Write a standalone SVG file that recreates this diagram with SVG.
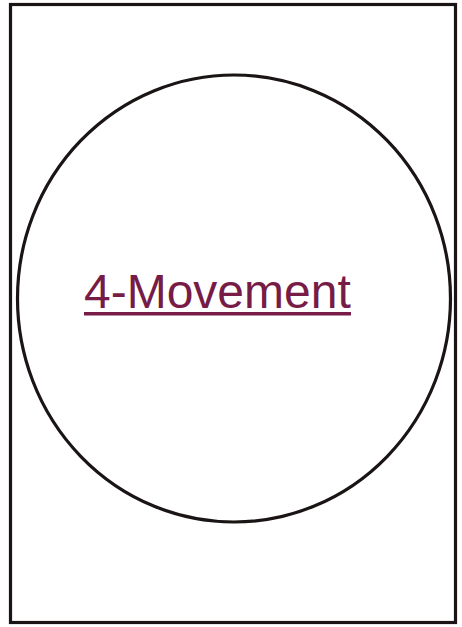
<svg xmlns="http://www.w3.org/2000/svg" width="462" height="627" viewBox="0 0 462 627">
<style>
.ln{fill:none;stroke:#1a1414;stroke-width:3.2}
.lbl{font-family:"Liberation Sans",Arial,sans-serif;font-size:48px;fill:#761c47}
</style>
<rect width="462" height="627" fill="#fff"/>
<g id="frame"><rect class="ln" x="10.5" y="4.5" width="445" height="618"/></g>
<g id="circle"><ellipse class="ln" cx="234" cy="298.5" rx="216.5" ry="223.5"/></g>
<g id="label">
<text class="lbl" x="84" y="308">4-Movement</text>
<rect x="84" y="312" width="267" height="3.5" fill="#761c47"/>
</g>
</svg>
